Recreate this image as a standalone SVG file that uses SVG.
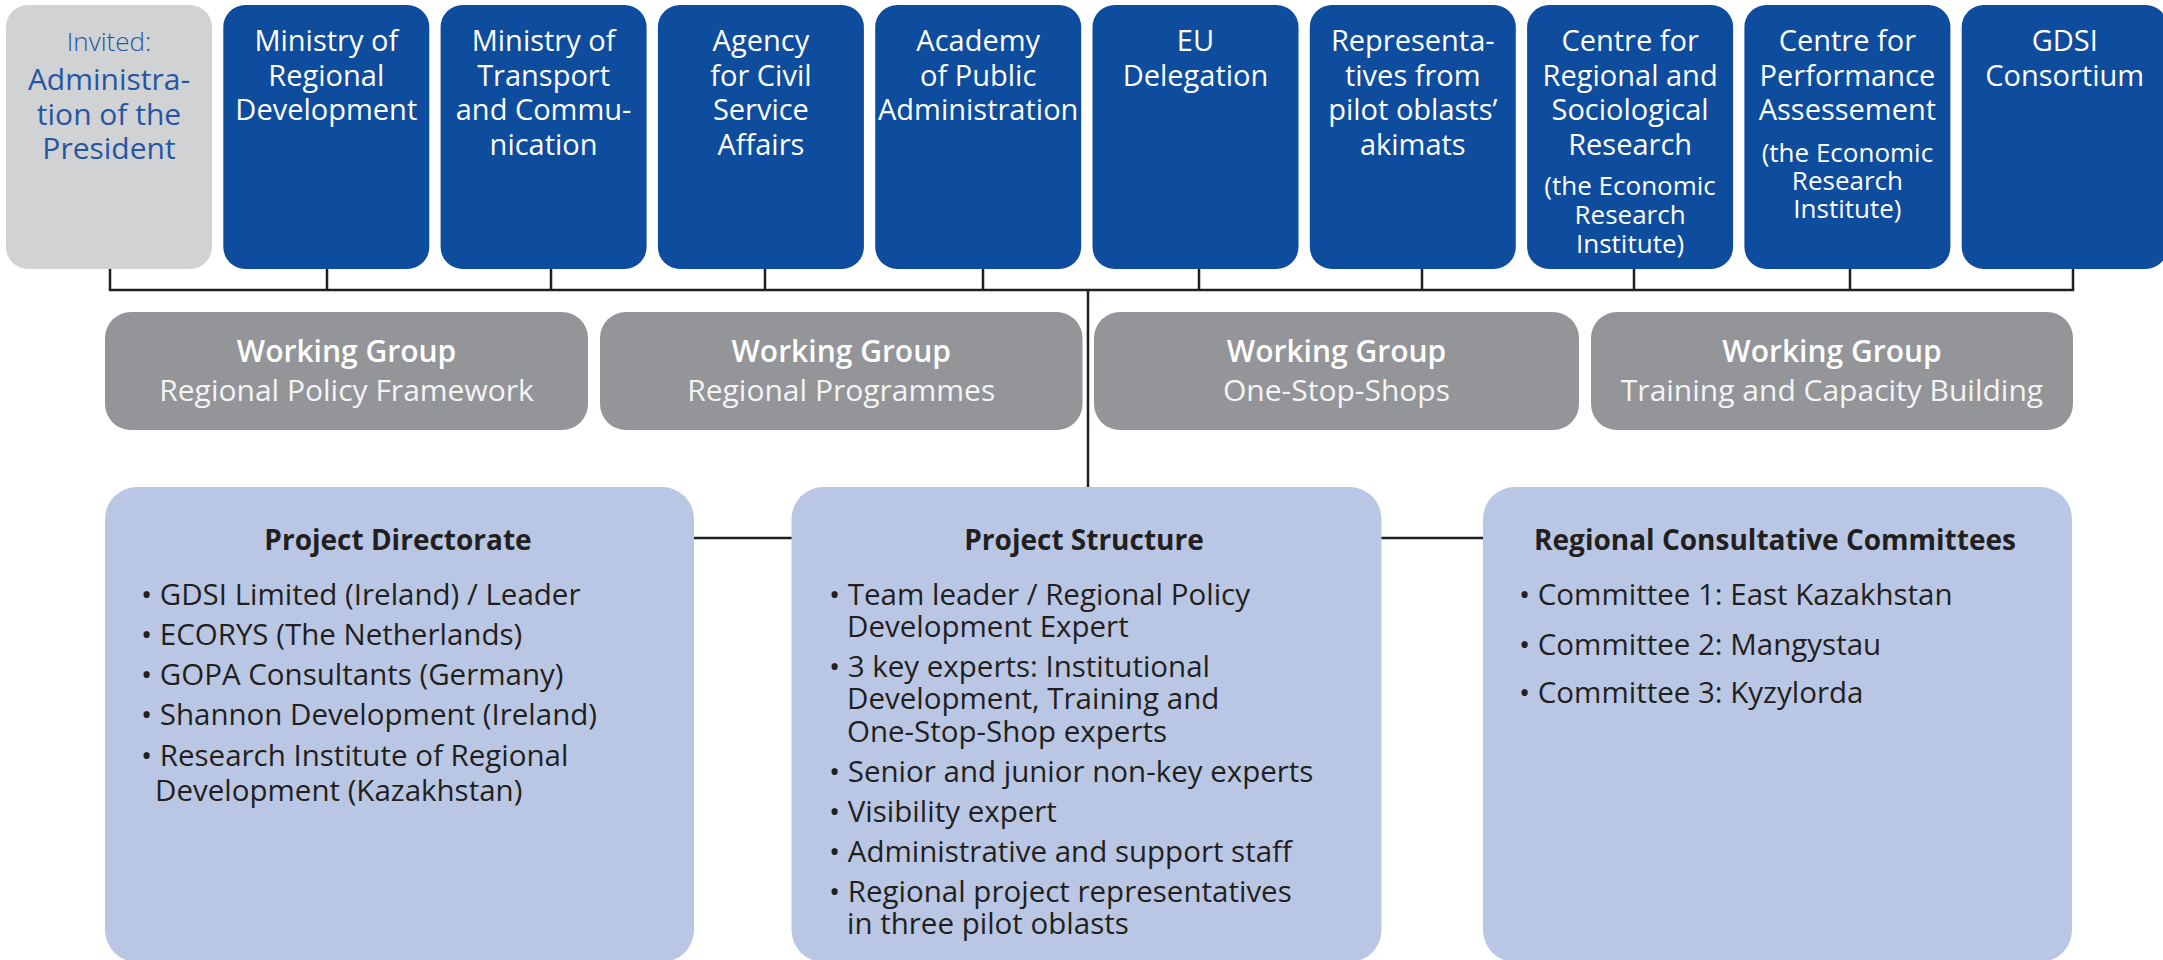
<svg xmlns="http://www.w3.org/2000/svg" width="2163" height="960" viewBox="0 0 2163 960">
<style>
.top{fill:#0e4c9e}
.tt{font-family:"Open Sans","Noto Sans",sans-serif;font-size:29px;fill:#ffffff;text-anchor:middle}
.ts{font-family:"Open Sans","Noto Sans",sans-serif;font-size:26px;fill:#ffffff;text-anchor:middle}
.inv{fill:#d1d2d4}
.it{font-family:"Open Sans","Noto Sans",sans-serif;fill:#2456a6;text-anchor:middle}
.wg{fill:#939598}
.wh{font-family:"Open Sans","Noto Sans",sans-serif;font-size:30px;font-weight:600;fill:#ffffff;text-anchor:middle}
.wl{font-family:"Open Sans","Noto Sans",sans-serif;font-size:30px;fill:#f4f4f4;text-anchor:middle}
.bb{fill:#b9c7e4}
.bh{font-family:"Open Sans","Noto Sans",sans-serif;font-size:28px;font-weight:700;fill:#231f20;text-anchor:middle}
.bt{font-family:"Open Sans","Noto Sans",sans-serif;font-size:29.5px;fill:#231f20}
.ln{stroke:#231f20;stroke-width:2.5;fill:none}
</style>
<g id="connectors">
<path class="ln" d="M110 269V290M327 269V290M551 269V290M765 269V290M983 269V290M1199 269V290M1422 269V290M1634 269V290M1850 269V290M2073 269V290"/>
<path class="ln" d="M108.8 290H2074.2"/>
<path class="ln" d="M1088 290V487"/>
<path class="ln" d="M694 538H792M1381 538H1483"/>
</g>
<g id="n-admin">
<rect class="inv" x="6" y="5" width="206" height="264" rx="22"/>
<text class="it" x="109" y="51" font-size="26" font-weight="300">Invited:</text>
<text class="it" x="109" y="90" font-size="30">Administra-</text>
<text class="it" x="109" y="124.5" font-size="30">tion of the</text>
<text class="it" x="109" y="159" font-size="30">President</text>
</g>
<g id="n-mrd">
<rect class="top" x="223.3" y="5" width="206" height="264" rx="22"/>
<text class="tt" x="326.3" y="51">Ministry of</text>
<text class="tt" x="326.3" y="85.5">Regional</text>
<text class="tt" x="326.3" y="120">Development</text>
</g>
<g id="n-mtc">
<rect class="top" x="440.6" y="5" width="206" height="264" rx="22"/>
<text class="tt" x="543.6" y="51">Ministry of</text>
<text class="tt" x="543.6" y="85.5">Transport</text>
<text class="tt" x="543.6" y="120">and Commu-</text>
<text class="tt" x="543.6" y="154.5">nication</text>
</g>
<g id="n-agency">
<rect class="top" x="657.9" y="5" width="206" height="264" rx="22"/>
<text class="tt" x="760.9" y="51">Agency</text>
<text class="tt" x="760.9" y="85.5">for Civil</text>
<text class="tt" x="760.9" y="120">Service</text>
<text class="tt" x="760.9" y="154.5">Affairs</text>
</g>
<g id="n-academy">
<rect class="top" x="875.2" y="5" width="206" height="264" rx="22"/>
<text class="tt" x="978.2" y="51">Academy</text>
<text class="tt" x="978.2" y="85.5">of Public</text>
<text class="tt" x="978.2" y="120">Administration</text>
</g>
<g id="n-eu">
<rect class="top" x="1092.5" y="5" width="206" height="264" rx="22"/>
<text class="tt" x="1195.5" y="51">EU</text>
<text class="tt" x="1195.5" y="85.5">Delegation</text>
</g>
<g id="n-repr">
<rect class="top" x="1309.8" y="5" width="206" height="264" rx="22"/>
<text class="tt" x="1412.8" y="51">Representa-</text>
<text class="tt" x="1412.8" y="85.5">tives from</text>
<text class="tt" x="1412.8" y="120">pilot oblasts’</text>
<text class="tt" x="1412.8" y="154.5">akimats</text>
</g>
<g id="n-crsr">
<rect class="top" x="1527.1" y="5" width="206" height="264" rx="22"/>
<text class="tt" x="1630.1" y="51">Centre for</text>
<text class="tt" x="1630.1" y="85.5">Regional and</text>
<text class="tt" x="1630.1" y="120">Sociological</text>
<text class="tt" x="1630.1" y="154.5">Research</text>
<text class="ts" x="1630.1" y="195">(the Economic</text>
<text class="ts" x="1630.1" y="224">Research</text>
<text class="ts" x="1630.1" y="253">Institute)</text>
</g>
<g id="n-cpa">
<rect class="top" x="1744.4" y="5" width="206" height="264" rx="22"/>
<text class="tt" x="1847.4" y="51">Centre for</text>
<text class="tt" x="1847.4" y="85.5">Performance</text>
<text class="tt" x="1847.4" y="120">Assessement</text>
<text class="ts" x="1847.4" y="162">(the Economic</text>
<text class="ts" x="1847.4" y="190">Research</text>
<text class="ts" x="1847.4" y="218">Institute)</text>
</g>
<g id="n-gdsi">
<rect class="top" x="1961.7" y="5" width="206" height="264" rx="22"/>
<text class="tt" x="2064.7" y="51">GDSI</text>
<text class="tt" x="2064.7" y="85.5">Consortium</text>
</g>
<g id="wg-rpf">
<rect class="wg" x="105" y="312" width="483" height="118" rx="26"/>
<text class="wh" x="346.5" y="362">Working Group</text>
<text class="wl" x="346.5" y="401">Regional Policy Framework</text>
</g>
<g id="wg-rp">
<rect class="wg" x="600" y="312" width="482.5" height="118" rx="26"/>
<text class="wh" x="841.2" y="362">Working Group</text>
<text class="wl" x="841.2" y="401">Regional Programmes</text>
</g>
<g id="wg-oss">
<rect class="wg" x="1094" y="312" width="485" height="118" rx="26"/>
<text class="wh" x="1336.5" y="362">Working Group</text>
<text class="wl" x="1336.5" y="401">One-Stop-Shops</text>
</g>
<g id="wg-tcb">
<rect class="wg" x="1591" y="312" width="482" height="118" rx="26"/>
<text class="wh" x="1832" y="362">Working Group</text>
<text class="wl" x="1832" y="401">Training and Capacity Building</text>
</g>
<g id="n-directorate">
<rect class="bb" x="105" y="487" width="589" height="475" rx="32"/>
<text class="bh" x="398" y="550">Project Directorate</text>
<text class="bt" x="141" y="605">• GDSI Limited (Ireland) / Leader</text>
<text class="bt" x="141" y="645">• ECORYS (The Netherlands)</text>
<text class="bt" x="141" y="685">• GOPA Consultants (Germany)</text>
<text class="bt" x="141" y="725">• Shannon Development (Ireland)</text>
<text class="bt" x="141" y="766">• Research Institute of Regional</text>
<text class="bt" x="155" y="801">Development (Kazakhstan)</text>
</g>
<g id="n-structure">
<rect class="bb" x="791.5" y="487" width="590" height="475" rx="32"/>
<text class="bh" x="1084" y="550">Project Structure</text>
<text class="bt" x="829" y="605">• Team leader / Regional Policy</text>
<text class="bt" x="847" y="637">Development Expert</text>
<text class="bt" x="829" y="677">• 3 key experts: Institutional</text>
<text class="bt" x="847" y="709">Development, Training and</text>
<text class="bt" x="847" y="742">One-Stop-Shop experts</text>
<text class="bt" x="829" y="782">• Senior and junior non-key experts</text>
<text class="bt" x="829" y="822">• Visibility expert</text>
<text class="bt" x="829" y="862">• Administrative and support staff</text>
<text class="bt" x="829" y="902">• Regional project representatives</text>
<text class="bt" x="847" y="934">in three pilot oblasts</text>
</g>
<g id="n-committees">
<rect class="bb" x="1483" y="487" width="589" height="475" rx="32"/>
<text class="bh" x="1775" y="550">Regional Consultative Committees</text>
<text class="bt" x="1519" y="605">• Committee 1: East Kazakhstan</text>
<text class="bt" x="1519" y="655">• Committee 2: Mangystau</text>
<text class="bt" x="1519" y="703">• Committee 3: Kyzylorda</text>
</g>
</svg>
